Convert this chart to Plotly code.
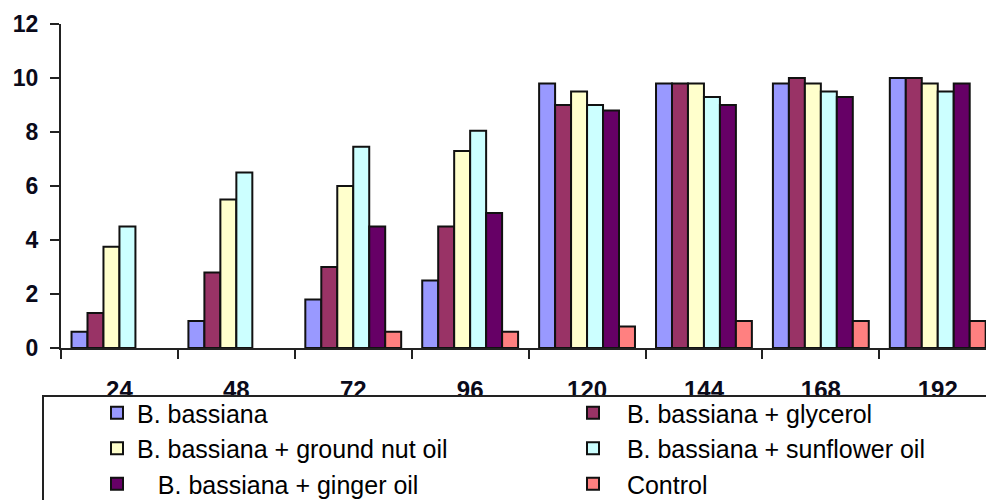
import plotly.graph_objects as go

# Exposure time (hours)
hours = ["24", "48", "72", "96", "120", "144", "168", "192"]

b_bassiana = [0.6, 1.0, 1.8, 2.5, 9.8, 9.8, 9.8, 10.0]
b_glycerol = [1.3, 2.8, 3.0, 4.5, 9.0, 9.8, 10.0, 10.0]
b_groundnut = [3.75, 5.5, 6.0, 7.3, 9.5, 9.8, 9.8, 9.8]
b_sunflower = [4.5, 6.5, 7.45, 8.05, 9.0, 9.3, 9.5, 9.5]
b_ginger = [None, None, 4.5, 5.0, 8.8, 9.0, 9.3, 9.8]
control = [None, None, 0.6, 0.6, 0.8, 1.0, 1.0, 1.0]

y_ticks = [0, 2, 4, 6, 8, 10, 12]

nb = "\u00a0"
series = [
    ("B. bassiana", b_bassiana, "#9999FF"),
    (nb * 2 + "B. bassiana + glycerol", b_glycerol, "#993366"),
    ("B. bassiana + ground nut oil", b_groundnut, "#FFFFCC"),
    (nb * 2 + "B. bassiana + sunflower oil", b_sunflower, "#CCFFFF"),
    (nb * 3 + "B. bassiana + ginger oil", b_ginger, "#660066"),
    (nb * 2 + "Control", control, "#FF8080"),
]

fig = go.Figure()
for name, vals, col in series:
    fig.add_trace(go.Bar(
        x=hours, y=vals, name=name,
        marker=dict(color=col, line=dict(color="#111111", width=2)),
    ))

W, H = 986, 500
ml, mt, mb = 61, 24, 152
pw = W - ml
ph = H - mt - mb


def px_x(px):
    return (px - ml) / pw


def px_y(py):
    return (mt + ph - py) / ph


# frame around the legend, running off the right and bottom edges
fig.add_shape(
    type="rect", xref="paper", yref="paper", layer="above",
    x0=px_x(43), x1=px_x(1100), y0=px_y(396), y1=px_y(540),
    fillcolor="white", line=dict(color="#222222", width=2),
)

bold = "Liberation Sans, Arial, sans-serif"
fig.update_layout(
    width=W, height=H,
    margin=dict(l=ml, r=0, t=mt, b=mb, autoexpand=False),
    paper_bgcolor="white", plot_bgcolor="white",
    barmode="group", bargap=0.18, bargroupgap=0,
    font=dict(family="Liberation Sans, Arial, sans-serif", color="#000000"),
    xaxis=dict(
        type="category", range=[-0.5, -0.5 + pw / 116.9],
        showline=True, linecolor="#222222", linewidth=2,
        ticks="outside", tickson="boundaries", ticklen=9, tickwidth=2, tickcolor="#222222",
        tickfont=dict(size=24, family=bold, weight="bold", color="#0a0a1a"),
        ticklabelstandoff=19, showgrid=False, zeroline=False,
    ),
    yaxis=dict(
        range=[0, 12], tickvals=y_ticks,
        showline=True, linecolor="#222222", linewidth=2,
        ticks="outside", ticklen=9, tickwidth=2, tickcolor="#222222",
        tickfont=dict(size=23, family=bold, weight="bold", color="#0a0a1a"),
        ticklabelstandoff=7, showgrid=False, zeroline=False,
    ),
    legend=dict(
        orientation="h", xref="paper", yref="paper",
        x=px_x(43), xanchor="left",
        y=px_y(390), yanchor="top",
        bgcolor="rgba(0,0,0,0)", borderwidth=0,
        font=dict(size=25, color="#000000"),
        entrywidth=377, entrywidthmode="pixels",
        indentation=54, traceorder="normal",
    ),
    showlegend=True,
)

fig.write_html("out.html")
